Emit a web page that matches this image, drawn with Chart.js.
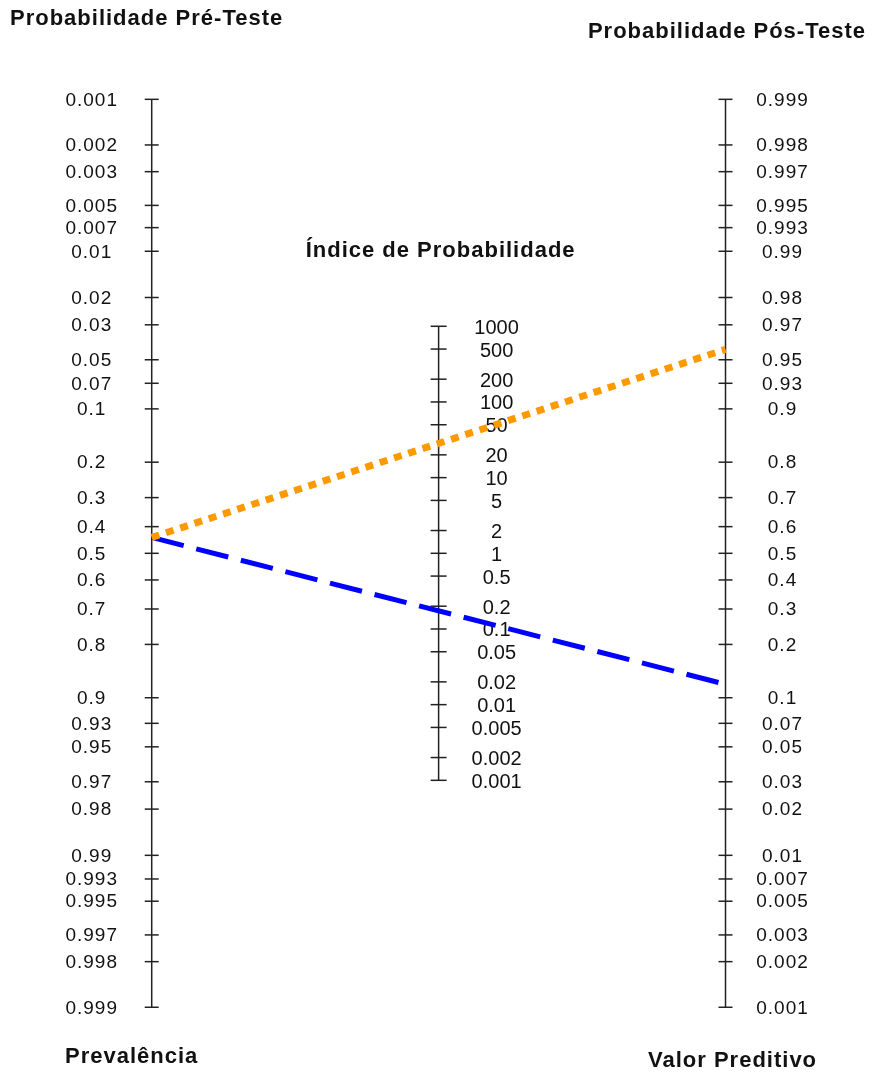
<!DOCTYPE html>
<html>
<head>
<meta charset="utf-8">
<script src="https://cdn.jsdelivr.net/npm/chart.js@4/dist/chart.umd.min.js"></script>
<style>
  html, body { margin: 0; padding: 0; background: #fff; }
  #wrap { width: 872px; height: 1074px; position: relative; }
  canvas { display: block; }
</style>
</head>
<body>
<div id="wrap"><canvas id="nomogram" width="872" height="1074"></canvas></div>
<script>
// Fagan nomogram: pre-test probability, likelihood ratio, post-test probability

// Tick values of the three scales (top to bottom)
const preTestTicks = [0.001, 0.002, 0.003, 0.005, 0.007, 0.01, 0.02, 0.03, 0.05, 0.07, 0.1,
  0.2, 0.3, 0.4, 0.5, 0.6, 0.7, 0.8, 0.9, 0.93, 0.95, 0.97, 0.98, 0.99, 0.993, 0.995, 0.997, 0.998, 0.999];
const likelihoodTicks = [1000, 500, 200, 100, 50, 20, 10, 5, 2, 1, 0.5, 0.2, 0.1, 0.05,
  0.02, 0.01, 0.005, 0.002, 0.001];
const postTestTicks = [0.999, 0.998, 0.997, 0.995, 0.993, 0.99, 0.98, 0.97, 0.95, 0.93, 0.9,
  0.8, 0.7, 0.6, 0.5, 0.4, 0.3, 0.2, 0.1, 0.07, 0.05, 0.03, 0.02, 0.01, 0.007, 0.005, 0.003, 0.002, 0.001];

// Case drawn on the nomogram
const preTestProbability = [0.44];
const postTestPositive = [0.957];
const postTestNegative = [0.12];

// Titles
const titles = {
  pre: 'Probabilidade Pré-Teste',
  post: 'Probabilidade Pós-Teste',
  ratio: 'Índice de Probabilidade',
  preBottom: 'Prevalência',
  postBottom: 'Valor Preditivo'
};

// Shared vertical coordinate: logit units of the post-test scale
const logit = p => Math.log(p / (1 - p));
const preY = p => -logit(p);
const postY = p => logit(p);
const ratioY = r => Math.log(r) / 2;
const AXIS_X = { pre: 0, ratio: 0.5, post: 1 };

const axisLine = (x, vals, f) => ({
  data: [{ x, y: f(vals[0]) }, { x, y: f(vals[vals.length - 1]) }],
  showLine: true, borderColor: '#222', borderWidth: 1.5, pointRadius: 0, order: 5
});
const tickMarks = (x, vals, f, r) => ({
  data: vals.map(v => ({ x, y: f(v) })),
  showLine: false, pointStyle: 'line', pointRadius: r, pointHoverRadius: r,
  borderColor: '#222', pointBorderColor: '#222', pointBorderWidth: 1.5, borderWidth: 1.5, order: 4
});

const TEXT = '#111';
const labelFont = '19px "Liberation Sans", Arial, sans-serif';
const ratioFont = '20px "Liberation Sans", Arial, sans-serif';
const titleFont = 'bold 22px "Liberation Sans", Arial, sans-serif';

const nomogramLabels = {
  id: 'nomogramLabels',
  beforeDatasetsDraw(chart) {
    const { ctx, scales: { x, y } } = chart;
    ctx.save();
    ctx.fillStyle = TEXT;
    ctx.textAlign = 'center';
    ctx.textBaseline = 'middle';

    ctx.font = labelFont;
    ctx.letterSpacing = '1px';
    const xl = x.getPixelForValue(AXIS_X.pre) - 60;
    preTestTicks.forEach(p => ctx.fillText(String(p), xl, y.getPixelForValue(preY(p)) + 1));
    const xr = x.getPixelForValue(AXIS_X.post) + 57;
    postTestTicks.forEach(p => ctx.fillText(String(p), xr, y.getPixelForValue(postY(p)) + 1));

    ctx.font = ratioFont;
    ctx.letterSpacing = '0px';
    const xm = x.getPixelForValue(AXIS_X.ratio) + 58;
    likelihoodTicks.forEach(r => ctx.fillText(String(r), xm, y.getPixelForValue(ratioY(r)) + 2));
    ctx.restore();
  },
  afterDraw(chart) {
    const { ctx, scales: { x }, chartArea } = chart;
    ctx.save();
    ctx.fillStyle = TEXT;
    ctx.font = titleFont;
    ctx.letterSpacing = '1px';
    ctx.textBaseline = 'alphabetic';
    ctx.textAlign = 'left';
    ctx.fillText(titles.pre, 10, 25);
    ctx.fillText(titles.preBottom, 65, 1063);
    ctx.fillText(titles.postBottom, 648, 1067);
    ctx.textAlign = 'right';
    ctx.fillText(titles.post, chartArea.right - 6, 38);
    ctx.textAlign = 'center';
    ctx.fillText(titles.ratio, x.getPixelForValue(AXIS_X.ratio) + 2, 257);
    ctx.restore();
  }
};

new Chart(document.getElementById('nomogram'), {
  type: 'scatter',
  data: {
    datasets: [
      {
        label: 'Positivo',
        data: [{ x: AXIS_X.pre, y: preY(preTestProbability[0]) }, { x: AXIS_X.post, y: postY(postTestPositive[0]) }],
        showLine: true, borderColor: 'rgb(255,153,0)', borderWidth: 7, borderDash: [8, 7],
        borderCapStyle: 'butt', pointRadius: 0, order: 1
      },
      {
        label: 'Negativo',
        data: [{ x: AXIS_X.pre, y: preY(preTestProbability[0]) }, { x: AXIS_X.post, y: postY(postTestNegative[0]) }],
        showLine: true, borderColor: '#0000ff', borderWidth: 5, borderDash: [33, 13],
        borderCapStyle: 'butt', pointRadius: 0, order: 2
      },
      axisLine(AXIS_X.pre, preTestTicks, preY),
      axisLine(AXIS_X.ratio, likelihoodTicks, ratioY),
      axisLine(AXIS_X.post, postTestTicks, postY),
      tickMarks(AXIS_X.pre, preTestTicks, preY, 7),
      tickMarks(AXIS_X.ratio, likelihoodTicks, ratioY, 8),
      tickMarks(AXIS_X.post, postTestTicks, postY, 7)
    ]
  },
  options: {
    responsive: false,
    animation: false,
    events: [],
    clip: false,
    layout: { padding: 0, autoPadding: false },
    plugins: { legend: { display: false }, tooltip: { enabled: false }, title: { display: false } },
    scales: {
      x: { type: 'linear', display: false, min: -0.2644, max: 1.2553 },
      y: { type: 'linear', display: false, min: -7.922, max: 8.418 }
    }
  },
  plugins: [nomogramLabels]
});
</script>
</body>
</html>
